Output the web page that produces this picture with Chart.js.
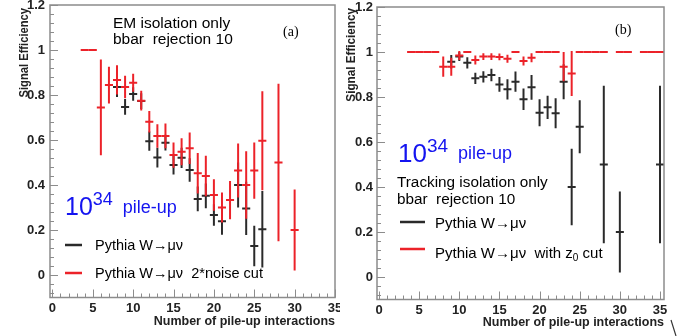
<!DOCTYPE html>
<html><head><meta charset="utf-8">
<script src="https://cdn.jsdelivr.net/npm/chart.js@4.4.0/dist/chart.umd.min.js"></script>
<style>
html,body{margin:0;padding:0;background:#fff;}
#wrap{position:relative;width:694px;height:336px;overflow:hidden;background:#fff;}
canvas{position:absolute;top:0;}
</style></head><body>
<div id="wrap">
<canvas id="ca" width="340" height="336" style="left:0"></canvas>
<canvas id="cb" width="354" height="336" style="left:340px"></canvas>
</div>
<script>
// ---------- tick labels ----------
const xTicks = [0, 5, 10, 15, 20, 25, 30, 35];
const yTicks = [0, 0.2, 0.4, 0.6, 0.8, 1, 1.2];

// ---------- panel (a): EM isolation ----------
const aBlackX   = [8, 9, 10, 11, 12, 13, 14, 15, 16, 17, 18, 19, 20, 21, 23, 24, 25, 26];
const aBlackY   = [0.836, 0.747, 0.805, 0.773, 0.595, 0.522, 0.588, 0.489, 0.521, 0.467, 0.338, 0.352, 0.267, 0.239, 0.4, 0.296, 0.129, 0.203];
const aBlackErr = [0.045, 0.035, 0.03, 0.035, 0.043, 0.044, 0.035, 0.042, 0.045, 0.052, 0.055, 0.055, 0.048, 0.06, 0.1, 0.118, 0.09, 0.17];
const aRedX     = [4, 5, 6, 7, 8, 9, 10, 11, 12, 13, 14, 15, 16, 17, 18, 19, 20, 21, 22, 23, 24, 25, 26, 28, 30];
const aRedY     = [1, 1, 0.745, 0.844, 0.867, 0.836, 0.855, 0.775, 0.681, 0.618, 0.618, 0.533, 0.548, 0.563, 0.452, 0.44, 0.356, 0.3, 0.333, 0.464, 0.4, 0.464, 0.597, 0.5, 0.2];
const aRedErr   = [0, 0, 0.213, 0.082, 0.065, 0.05, 0.04, 0.044, 0.048, 0.052, 0.055, 0.056, 0.06, 0.07, 0.09, 0.09, 0.07, 0.067, 0.085, 0.12, 0.15, 0.125, 0.22, 0.35, 0.18];
const aBlackLabel = 'Pythia W\u2192\u03bc\u03bd';
const aRedLabel   = 'Pythia W\u2192\u03bc\u03bd  2*noise cut';

// ---------- panel (b): tracking isolation ----------
const bBlackX   = [9, 10, 11, 12, 13, 14, 15, 16, 17, 18, 19, 20, 21, 22, 23, 24, 25, 28, 30, 35];
const bBlackY   = [0.957, 0.98, 0.952, 0.883, 0.89, 0.898, 0.856, 0.834, 0.868, 0.79, 0.843, 0.73, 0.754, 0.728, 0.868, 0.4, 0.668, 0.5, 0.2, 0.5];
const bBlackErr = [0.03, 0.02, 0.025, 0.025, 0.025, 0.028, 0.033, 0.045, 0.045, 0.048, 0.055, 0.06, 0.052, 0.067, 0.078, 0.17, 0.118, 0.35, 0.18, 0.35];
const bRedX     = [4, 5, 6, 7, 8, 9, 10, 11, 12, 13, 14, 15, 16, 17, 18, 19, 20, 21, 22, 23, 24, 25, 26, 27, 28, 30, 31, 33, 34, 35];
const bRedY     = [1, 1, 1, 1, 0.935, 0.935, 0.985, 1, 0.964, 0.98, 0.98, 0.978, 0.97, 1, 0.96, 0.975, 1, 1, 1, 0.935, 0.905, 1, 1, 1, 1, 1, 1, 1, 1, 1];
const bRedErr   = [0, 0, 0, 0, 0.045, 0.04, 0.02, 0, 0.02, 0.015, 0.015, 0.015, 0.018, 0, 0.02, 0.02, 0, 0, 0, 0.065, 0.1, 0, 0, 0, 0, 0, 0, 0, 0, 0];
const bBlackLabel = 'Pythia W\u2192\u03bc\u03bd';
const bRedLabel   = 'Pythia W\u2192\u03bc\u03bd  with z';

const BLACK = '#2a2a2a';
const RED = '#ec2229';
const BLUE = '#1414f0';
const FRAME = '#8c8c8c';
const SANS = '"Liberation Sans", Arial, sans-serif';
const SERIF = '"Liberation Serif", "Times New Roman", serif';

Chart.defaults.font.family = SANS;
Chart.defaults.color = '#222';

function pts(xs, ys, es) { return xs.map((x, i) => ({ x: x, y: ys[i], e: es[i] })); }

const errorBars = {
  id: 'errorBars',
  afterDatasetsDraw(chart) {
    const { ctx, chartArea: a, scales: { x, y } } = chart;
    ctx.save();
    ctx.beginPath(); ctx.rect(a.left, a.top, a.width, a.height); ctx.clip();
    chart.data.datasets.forEach(ds => {
      ctx.strokeStyle = ds.borderColor; ctx.lineWidth = 2; ctx.lineCap = 'butt';
      ds.data.forEach(p => {
        const px = x.getPixelForValue(p.x), py = y.getPixelForValue(p.y);
        ctx.beginPath();
        ctx.moveTo(x.getPixelForValue(p.x - 0.5), py);
        ctx.lineTo(x.getPixelForValue(p.x + 0.5), py);
        if (p.e > 0) {
          ctx.moveTo(px, y.getPixelForValue(p.y + p.e));
          ctx.lineTo(px, y.getPixelForValue(p.y - p.e));
        }
        ctx.stroke();
      });
    });
    ctx.restore();
  }
};

const frame = {
  id: 'frame',
  afterDraw(chart) {
    const { ctx, chartArea: a, scales: { x, y } } = chart;
    ctx.save();
    ctx.strokeStyle = FRAME; ctx.lineWidth = 1.5;
    ctx.strokeRect(a.left, a.top, a.width, a.height);
    ctx.lineWidth = 1;
    for (let i = -2; i <= 30; i++) {
      const py = Math.round(y.getPixelForValue(i * 0.04)) + 0.5;
      if (py < a.top - 1 || py > a.bottom + 1) continue;
      ctx.beginPath(); ctx.moveTo(a.left, py); ctx.lineTo(a.left + (i % 5 === 0 ? 8 : 4), py); ctx.stroke();
    }
    for (let i = 0; i <= 35; i++) {
      const px = Math.round(x.getPixelForValue(i)) + 0.5;
      if (px < a.left - 1 || px > a.right + 1) continue;
      ctx.beginPath(); ctx.moveTo(px, a.bottom); ctx.lineTo(px, a.bottom - (i % 5 === 0 ? 8 : 4)); ctx.stroke();
    }
    ctx.restore();
  }
};

function drawSegs(ctx, x, y, segs, color) {
  ctx.save(); ctx.fillStyle = color; ctx.textAlign = 'left'; ctx.textBaseline = 'alphabetic';
  let cx = x;
  for (const s of segs) { ctx.font = s.f; ctx.fillText(s.t, cx, y + (s.dy || 0)); cx += ctx.measureText(s.t).width; }
  ctx.restore();
}

function makeAnnot(cfg) {
  return {
    id: 'annot',
    afterDraw(chart) {
      const ctx = chart.ctx;
      const ds = chart.data.datasets;
      // y axis title (rotated, slightly condensed like the original)
      const t = cfg.ytitle;
      ctx.save();
      ctx.translate(t.x, t.y); ctx.rotate(-Math.PI / 2); ctx.scale(t.sx, 1);
      ctx.font = 'bold ' + t.size + 'px ' + SANS; ctx.fillStyle = '#222';
      ctx.textAlign = 'right'; ctx.textBaseline = 'alphabetic';
      ctx.fillText('Signal Efficiency', 0, 0);
      ctx.restore();
      // text lines
      cfg.lines.forEach(l => drawSegs(ctx, l.x, l.y, l.segs, l.c || '#000'));
      // legend
      cfg.legend.forEach((L, i) => {
        ctx.save(); ctx.strokeStyle = ds[i].borderColor; ctx.lineWidth = 2.5;
        ctx.beginPath(); ctx.moveTo(L.x0, L.ly); ctx.lineTo(L.x1, L.ly); ctx.stroke(); ctx.restore();
        const segs = [{ t: ds[i].label, f: L.f }].concat(L.extra || []);
        drawSegs(ctx, L.tx, L.ty, segs, '#000');
      });
      if (cfg.after) cfg.after(chart);
    }
  };
}

function makeChart(id, black, red, geo, annot) {
  return new Chart(document.getElementById(id), {
    type: 'scatter',
    data: {
      datasets: [
        { label: black.label, data: black.data, borderColor: BLACK, backgroundColor: BLACK, pointRadius: 0, showLine: false },
        { label: red.label, data: red.data, borderColor: RED, backgroundColor: RED, pointRadius: 0, showLine: false }
      ]
    },
    options: {
      responsive: false, animation: false, events: [],
      layout: { padding: { left: 0, top: geo.top, right: geo.right, bottom: 0 } },
      plugins: { legend: { display: false }, tooltip: { enabled: false } },
      scales: {
        x: {
          type: 'linear', min: geo.xmin, max: geo.xmax,
          grid: { display: false, drawTicks: false }, border: { display: false },
          afterBuildTicks: s => { s.ticks = xTicks.map(v => ({ value: v })); },
          afterFit: s => { s.height = geo.xh; s.paddingLeft = 0; s.paddingRight = 0; },
          ticks: { autoSkip: false, maxRotation: 0, padding: 3, color: '#222', font: { size: 13, weight: 'bold' },
                   callback: v => String(v) },
          title: { display: true, text: 'Number of pile-up interactions', align: 'end', color: '#222',
                   font: { size: 12.5, weight: 'bold' }, padding: { top: 0, bottom: geo.xtp } }
        },
        y: {
          type: 'linear', min: -0.1, max: 1.2,
          grid: { display: false, drawTicks: false }, border: { display: false },
          afterBuildTicks: s => { s.ticks = yTicks.map(v => ({ value: v })); },
          afterFit: s => { s.width = geo.yw; s.paddingTop = 0; s.paddingBottom = 0; },
          ticks: { autoSkip: false, padding: geo.ytp, color: '#222', font: { size: 13, weight: 'bold' },
                   callback: v => String(+v.toFixed(1)) }
        }
      }
    },
    plugins: [errorBars, frame, makeAnnot(annot)]
  });
}

const F = (s, w) => (w ? w + ' ' : '') + s + 'px ' + SANS;

makeChart('ca',
  { label: aBlackLabel, data: pts(aBlackX, aBlackY, aBlackErr) },
  { label: aRedLabel, data: pts(aRedX, aRedY, aRedErr) },
  { top: 5, right: 5, xmin: -0.3, xmax: 35, xh: 38.5, xtp: 6.5, yw: 50, ytp: 5 },
  {
    ytitle: { x: 28, y: 8, size: 13, sx: 0.86 },
    lines: [
      { x: 113, y: 28, segs: [{ t: 'EM isolation only', f: F(15.5) }] },
      { x: 113, y: 44, segs: [{ t: 'bbar  rejection 10', f: F(15.5) }] },
      { x: 283, y: 36, segs: [{ t: '(a)', f: '14px ' + SERIF }] },
      { x: 65, y: 215, c: BLUE, segs: [{ t: '10', f: F(25) }, { t: '34', f: F(18), dy: -10 }, { t: '  pile-up', f: F(18), dy: -2 }] }
    ],
    legend: [
      { x0: 65, x1: 82, ly: 245, tx: 95, ty: 250, f: F(14.5) },
      { x0: 65, x1: 82, ly: 273, tx: 95, ty: 278, f: F(14.5) }
    ]
  });

makeChart('cb',
  { label: bBlackLabel, data: pts(bBlackX, bBlackY, bBlackErr) },
  { label: bRedLabel, data: pts(bRedX, bRedY, bRedErr) },
  { top: 7, right: 30, xmin: -0.25, xmax: 35.5, xh: 36.5, xtp: 5.5, yw: 37, ytp: 4 },
  {
    ytitle: { x: 15, y: 8, size: 13, sx: 0.9 },
    lines: [
      { x: 275, y: 34, segs: [{ t: '(b)', f: '14px ' + SERIF }] },
      { x: 58, y: 162, c: BLUE, segs: [{ t: '10', f: F(26) }, { t: '34', f: F(19), dy: -10 }, { t: '  pile-up', f: F(18), dy: -3 }] },
      { x: 57, y: 187, segs: [{ t: 'Tracking isolation only', f: F(15.3) }] },
      { x: 57, y: 204, segs: [{ t: 'bbar  rejection 10', f: F(15.3) }] }
    ],
    legend: [
      { x0: 60, x1: 85, ly: 222, tx: 95, ty: 228, f: F(15) },
      { x0: 60, x1: 85, ly: 249, tx: 95, ty: 258, f: F(15), extra: [{ t: '0', f: F(10), dy: 3 }, { t: ' cut', f: F(15) }] }
    ],
    after(chart) {
      const { ctx, chartArea: a } = chart;
      ctx.save(); ctx.strokeStyle = '#333'; ctx.lineWidth = 1.2;
      ctx.beginPath(); ctx.moveTo(a.right + 7, 320); ctx.lineTo(a.right + 12, 336); ctx.stroke(); ctx.restore();
    }
  });
</script>
</body></html>
